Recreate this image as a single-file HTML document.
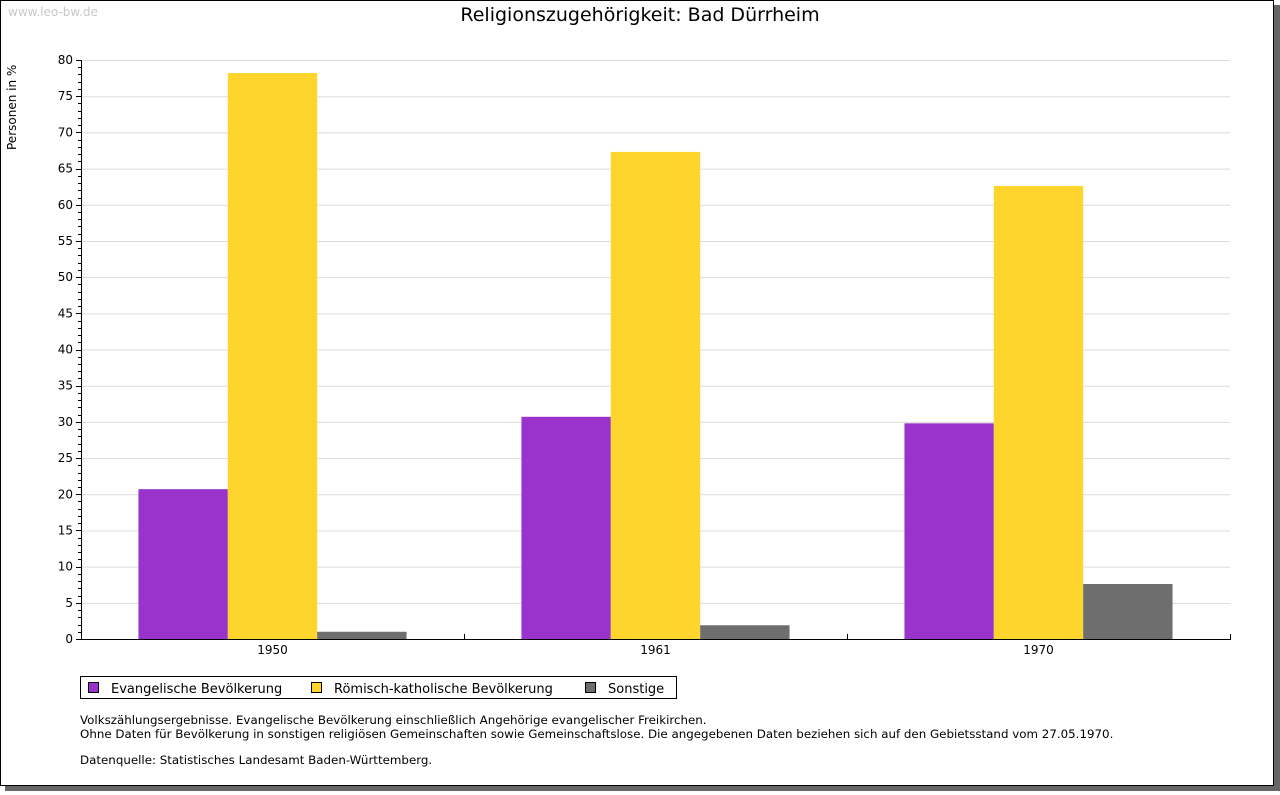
<!DOCTYPE html>
<html><head><meta charset="utf-8"><style>
body{margin:0;width:1280px;height:791px;background:#fff;overflow:hidden;font-family:"DejaVu Sans","Liberation Sans",sans-serif}
svg text{font-family:"DejaVu Sans","Liberation Sans",sans-serif}
</style></head><body>
<svg id="c" width="1280" height="791" xmlns="http://www.w3.org/2000/svg">
<rect x="5" y="5" width="1275" height="786" fill="#666"/>
<rect x="0.5" y="0.5" width="1273" height="785" fill="#fff" stroke="#000"/>
<text x="8" y="16" font-size="12" fill="#c8c8c8">www.leo-bw.de</text>
<text x="640" y="21" font-size="19" text-anchor="middle">Religionszugehörigkeit: Bad Dürrheim</text>
<text transform="translate(16,150) rotate(-90)" font-size="12">Personen in %</text>
<g id="grid"></g><g id="bars"></g><g id="axes"></g>
<g>
<rect x="80.5" y="676.5" width="596" height="22" fill="#fff" stroke="#000"/>
<rect x="88.5" y="682.5" width="10" height="10" fill="#9933cc" stroke="#000"/>
<text x="111" y="693" font-size="13">Evangelische Bevölkerung</text>
<rect x="311.5" y="682.5" width="10" height="10" fill="#fdd52d" stroke="#000"/>
<text x="334" y="693" font-size="13">Römisch-katholische Bevölkerung</text>
<rect x="585.5" y="682.5" width="10" height="10" fill="#6e6e6e" stroke="#000"/>
<text x="608" y="693" font-size="13">Sonstige</text>
</g>
<g font-size="11.85">
<text x="80" y="724">Volkszählungsergebnisse. Evangelische Bevölkerung einschließlich Angehörige evangelischer Freikirchen.</text>
<text x="80" y="738">Ohne Daten für Bevölkerung in sonstigen religiösen Gemeinschaften sowie Gemeinschaftslose. Die angegebenen Daten beziehen sich auf den Gebietsstand vom 27.05.1970.</text>
<text x="80" y="764">Datenquelle: Statistisches Landesamt Baden-Württemberg.</text>
</g>
</svg>
<script>
const categories=["1950","1961","1970"];
const evangelisch=[20.7,30.7,29.8];
const katholisch=[78.2,67.3,62.6];
const sonstige=[1.0,1.9,7.6];
const yTicks=[0,5,10,15,20,25,30,35,40,45,50,55,60,65,70,75,80];
const NS="http://www.w3.org/2000/svg";
const L=81,R=1230,T=60,B=639,YMAX=80;
const y=v=>B-(B-T)*v/YMAX;
const gw=(R-L)/categories.length;
const bw=gw*0.7/3;
function mk(p,tag,a){const e=document.createElementNS(NS,tag);for(const k in a)e.setAttribute(k,a[k]);p.appendChild(e);return e;}
const grid=document.getElementById('grid'),bars=document.getElementById('bars'),axes=document.getElementById('axes');
yTicks.forEach(t=>{
 if(t>0){const g=mk(grid,'line',{x1:L,x2:R,y1:y(t)+.5,y2:y(t)+.5,stroke:'#dcdcdc'});
 
 }
 const tk=mk(axes,'line',{x1:L-5,x2:L,y1:Math.round(y(t))+.5,y2:Math.round(y(t))+.5,stroke:'#000'});
 
 
 const tx=mk(axes,'text',{x:L-8,y:y(t)+4,'font-size':12,'text-anchor':'end'});tx.textContent=t;
 
 
});
for(let v=0;v<YMAX;v++){if(v%5){const m=mk(axes,'line',{x1:L-3,x2:L,y1:Math.round(y(v))+.5,y2:Math.round(y(v))+.5,stroke:'#000'});
 
 }}
const series=[[evangelisch,'#9933cc','evangelisch'],[katholisch,'#fdd52d','katholisch'],[sonstige,'#6e6e6e','sonstige']];
categories.forEach((c,i)=>{
 const x0=L+gw*i+gw*0.15;
 series.forEach((s,j)=>{
  const r=mk(bars,'rect',{x:x0+bw*j,y:y(s[0][i]),width:bw,height:B-y(s[0][i]),fill:s[1]});
  
  
 });
 const tx=mk(axes,'text',{x:L+gw*(i+.5),y:654,'font-size':12,'text-anchor':'middle'});tx.textContent=c;
 
 
 const tk=mk(axes,'line',{x1:Math.round(L+gw*(i+1))+.5,x2:Math.round(L+gw*(i+1))+.5,y1:B-5,y2:B,stroke:'#000'});
 
 
});
const ya=mk(axes,'line',{x1:L+.5,x2:L+.5,y1:T,y2:B+1,stroke:'#000'});


const xa=mk(axes,'line',{x1:L,x2:R+1,y1:B+.5,y2:B+.5,stroke:'#000'});


</script>
</body></html>
